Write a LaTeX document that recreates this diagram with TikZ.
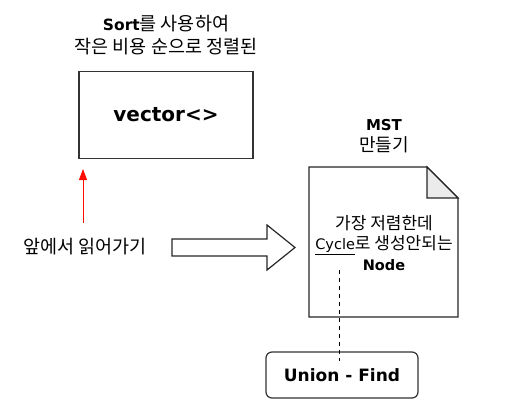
\documentclass[tikz,border=0pt]{standalone}
\usepackage{fontspec}
\setmainfont{DejaVu Sans}
\newfontfamily\kor{Noto Sans CJK KR}
\usetikzlibrary{arrows.meta,positioning}

\begin{document}
\begin{tikzpicture}[x=1pt,y=-1pt,>={Triangle[length=11pt,width=8pt]},
                    label text/.style={font=\kor\fontsize{18.5}{23}\selectfont,align=center,inner sep=0},
                    box/.style={draw=black!80,line width=1.2pt,fill=white},
                    bold text/.style={font=\bfseries\fontsize{17}{20}\selectfont}]

  \useasboundingbox (0,0) rectangle (517,418);

  % vector box and its title
  \node[box,minimum width=174pt,minimum height=87pt,font=\bfseries\fontsize{20}{24}\selectfont] (vec) at (166,115) {vector<>};
  \node[label text] (sorttxt) at (166,35) {{\bfseries\rmfamily\fontsize{15.5}{23}\selectfont Sort}를 사용하여\\작은 비용 순으로 정렬된};

  % reading from the front
  \node[label text] (read) at (85,247) {앞에서 읽어가기};
  \coordinate (readtop) at (83,169);
  \draw[->,red!90!orange,line width=0.8pt] (83,223) -- (readtop);

  % hollow arrow
  \draw[line width=1.2pt,draw=black!85,fill=white]
    (172,239) -- (267,239) -- (267,225) -- (295,247.5) -- (267,270) -- (267,256) -- (172,256) -- cycle;

  % MST document
  \node[label text,font=\kor\fontsize{18}{21}\selectfont] (msttxt) at (384,136) {{\bfseries\rmfamily\fontsize{15}{21}\selectfont MST}\\만들기};
  \draw[line width=1.2pt,draw=black!85,fill=white]
    (309,167) -- (427,167) -- (458,198) -- (458,317) -- (309,317) -- cycle;
  \draw[line width=1.2pt,draw=black!85,fill=black!8]
    (427,167) -- (427,198) -- (458,198) -- cycle;
  \node[label text,font=\kor\fontsize{17}{20.5}\selectfont] (doc) at (384,243) {가장 저렴한데\\\underline{\rmfamily\fontsize{14.5}{20.5}\selectfont Cycle}로 생성안되는\\{\bfseries\rmfamily\fontsize{14.5}{20.5}\selectfont Node}};

  % union find
  \node[box,rounded corners=6pt,minimum width=152pt,minimum height=46pt,bold text] (uf) at (342,375) {Union - Find};
  \coordinate (dashtop) at (339,270);
  \draw[dashed,line width=1pt,dash pattern=on 4pt off 4pt] (dashtop) -- ([yshift=-10pt]uf.north -| dashtop);

\end{tikzpicture}
\end{document}
